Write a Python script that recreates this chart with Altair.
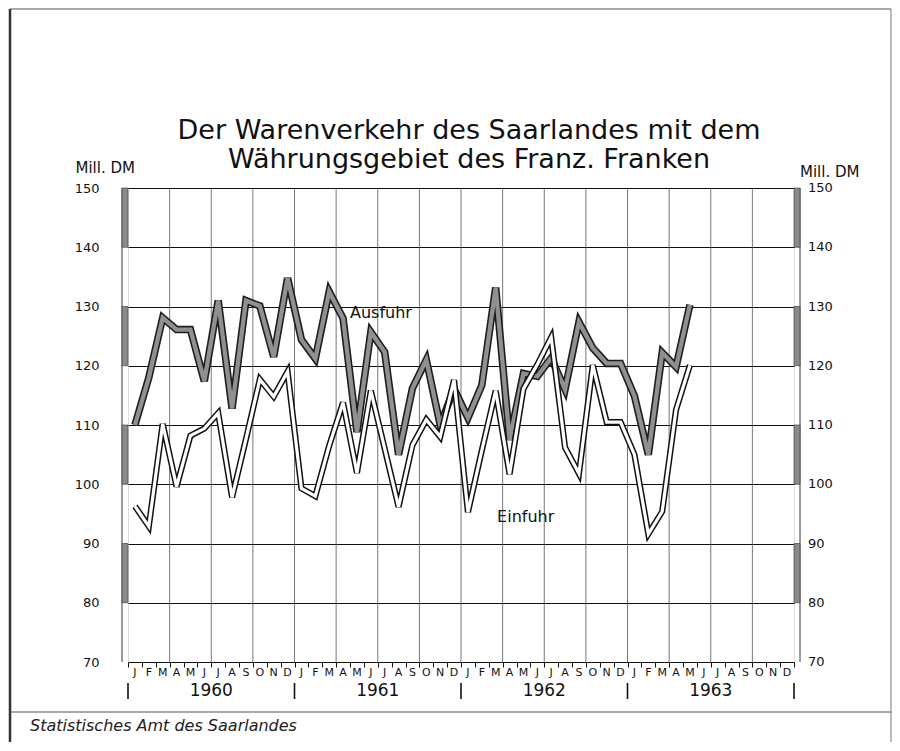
import altair as alt
import pandas as pd

# ---- data ----
ausfuhr = [110.0, 118.0, 128.1, 126.1, 126.1, 117.4, 131.0, 112.8, 131.0, 130.1, 121.5, 134.8,
           124.4, 121.2, 132.5, 128.0, 108.8, 125.7, 122.3, 105.0, 116.2, 121.0, 110.0, 116.1,
           111.2, 116.7, 133.2, 107.5, 118.7, 118.2, 121.3, 116.0, 127.4, 123.0, 120.4, 120.4,
           114.9, 105.0, 122.2, 119.8, 130.3]
einfuhr = [96.3, 92.9, 110.2, 99.6, 108.2, 109.4, 112.0, 97.8, 107.6, 117.7, 114.8, 119.0,
           99.3, 98.0, 106.5, 113.8, 101.9, 115.8, 106.0, 96.2, 106.6, 110.9, 108.0, 117.6,
           95.3, 105.7, 115.8, 101.7, 116.1, 120.2, 124.8, 106.2, 101.8, 120.1, 110.5, 110.5,
           105.0, 91.6, 95.4, 112.6, 120.1]
month_letters = list("JFMAMJJASOND") * 4
years = ["1960", "1961", "1962", "1963"]
y_ticks = [70, 80, 90, 100, 110, 120, 130, 140, 150]
shaded_bands = [(150, 140), (130, 120), (110, 100), (90, 80)]
title_lines = ["Der Warenverkehr des Saarlandes mit dem", "Währungsgebiet des Franz. Franken"]
unit = "Mill. DM"
source = "Statistisches Amt des Saarlandes"
labels = [("Ausfuhr", 15.5, 128.9), ("Einfuhr", 26.1, 94.4)]

W, H = 666, 474
FONT = "DejaVu Sans"
Y_MIN, Y_MAX = y_ticks[0], y_ticks[-1]

n_months = len(month_letters)
df_a = pd.DataFrame({"m": range(len(ausfuhr)), "v": ausfuhr})
df_e = pd.DataFrame({"m": range(len(einfuhr)), "v": einfuhr})
df_letters = pd.DataFrame({"m": range(n_months), "t": month_letters})
df_years = pd.DataFrame({"m": [5.5 + 12 * k for k in range(len(years))], "t": years})
df_yearsep = pd.DataFrame({"m": [-0.5 + 12 * k for k in range(len(years) + 1)]})
df_quarter = pd.DataFrame({"m": [2.5 + 3 * k for k in range(15)], "lo": Y_MIN, "hi": Y_MAX})
df_ticks = pd.DataFrame({"v": y_ticks})
df_axisline = pd.DataFrame({"lo": [Y_MIN], "hi": [Y_MAX]})
df_bands = pd.DataFrame({"a": [b[0] for b in shaded_bands], "b": [b[1] for b in shaded_bands]})
df_labels = pd.DataFrame({"t": [l[0] for l in labels], "m": [l[1] for l in labels],
                          "v": [l[2] for l in labels]})
df_one = pd.DataFrame({"t": [unit], "s": [source], "title": ["\n".join(title_lines)]})

xscale = alt.Scale(domain=[-0.5, 47.5], nice=False, zero=False)
yscale = alt.Scale(domain=[Y_MIN, Y_MAX], nice=False, zero=False)

xaxis = alt.Axis(values=[i - 0.5 for i in range(n_months + 1)], labels=False, ticks=True,
                 tickSize=5, tickColor="#111", tickWidth=1, domain=False, grid=False, title=None)
yaxis = alt.Axis(values=y_ticks, grid=True, gridColor="#111", gridWidth=1.1, ticks=False,
                 domain=False, labelFont=FONT, labelFontSize=13, labelColor="#111",
                 labelPadding=29, title=unit, titleAngle=0, titleAlign="left",
                 titleBaseline="alphabetic", titleX=-53, titleY=-16, titleFont=FONT,
                 titleFontSize=15, titleFontWeight="normal", titleColor="#111")


def xq():
    return alt.X("m:Q", scale=xscale, axis=xaxis)


def yq(field="v"):
    return alt.Y(f"{field}:Q", scale=yscale, axis=yaxis)


vgrid = alt.Chart(df_quarter).mark_rule(color="#555", strokeWidth=0.8).encode(
    x=xq(), y=yq("lo"), y2="hi:Q")

a_out = alt.Chart(df_a).mark_line(color="#1e1e1e", strokeWidth=7.5).encode(x=xq(), y=yq())
a_in = alt.Chart(df_a).mark_line(color="#909090", strokeWidth=4.3).encode(x=xq(), y=yq())
e_out = alt.Chart(df_e).mark_line(color="#111", strokeWidth=6.2).encode(x=xq(), y=yq())
e_in = alt.Chart(df_e).mark_line(color="white", strokeWidth=3.2).encode(x=xq(), y=yq())

series_labels = alt.Chart(df_labels).mark_text(align="left", baseline="middle", font=FONT,
                                               fontSize=16, color="#111").encode(
    x=xq(), y=yq(), text="t:N")

letters = alt.Chart(df_letters).mark_text(baseline="middle", font=FONT,
                                          fontSize=11, color="#111").encode(
    x=xq(), y=alt.value(H + 11), text="t:N")
year_text = alt.Chart(df_years).mark_text(baseline="middle", font=FONT, fontSize=17,
                                          color="#111").encode(
    x=xq(), y=alt.value(H + 29), text="t:N")
year_sep = alt.Chart(df_yearsep).mark_rule(color="#111", strokeWidth=1.6).encode(
    x=xq(), y=alt.value(H + 21), y2=alt.value(H + 37))

# shaded double-line strips along both value axes
strip_left_line = alt.Chart(df_axisline).mark_rule(color="#222", strokeWidth=0.9).encode(
    x=alt.value(-6), y=yq("lo"), y2="hi:Q")
strip_left = alt.Chart(df_bands).mark_rect(color="#8a8a8a", stroke="#333", strokeWidth=0.6).encode(
    x=alt.value(-6), x2=alt.value(0), y=yq("a"), y2="b:Q")
strip_right_line = alt.Chart(df_axisline).mark_rule(color="#222", strokeWidth=0.9).encode(
    x=alt.value(W + 6), y=yq("lo"), y2="hi:Q")
strip_right = alt.Chart(df_bands).mark_rect(color="#8a8a8a", stroke="#333", strokeWidth=0.6).encode(
    x=alt.value(W), x2=alt.value(W + 6), y=yq("a"), y2="b:Q")

right_labels = alt.Chart(df_ticks).mark_text(align="left", baseline="middle", font=FONT,
                                             fontSize=13, color="#111").encode(
    x=alt.value(W + 14), y=yq(), text="v:Q")
right_unit = alt.Chart(df_one).mark_text(
    align="left", baseline="alphabetic", font=FONT, fontSize=15, color="#111").encode(
    x=alt.value(W + 6), y=alt.value(-11), text="t:N")

# title as two centred text lines
title = alt.Chart(df_one).mark_text(align="center", baseline="top", font=FONT,
                                    fontSize=27, color="#111", lineBreak="\n",
                                    lineHeight=29).encode(
    x=alt.value(W / 2 + 8), y=alt.value(-70), text="title:N")

# outer frame of the sheet and footer
frame_l = alt.Chart(df_one).mark_rule(color="#333", strokeWidth=2.5).encode(
    x=alt.value(-118), y=alt.value(-179), y2=alt.value(560))
frame_r = alt.Chart(df_one).mark_rule(color="#777", strokeWidth=1).encode(
    x=alt.value(W + 97), y=alt.value(-179), y2=alt.value(560))
frame_top = alt.Chart(df_one).mark_rule(color="#555", strokeWidth=1.2).encode(
    x=alt.value(-118), x2=alt.value(W + 97), y=alt.value(-179))
frame_foot = alt.Chart(df_one).mark_rule(color="#555", strokeWidth=1).encode(
    x=alt.value(-118), x2=alt.value(W + 97), y=alt.value(524))
footer = alt.Chart(df_one).mark_text(
    align="left", baseline="middle", font=FONT, fontSize=16, fontStyle="italic",
    color="#222").encode(x=alt.value(-98), y=alt.value(538), text="s:N")

chart = alt.layer(
    frame_l, frame_r, frame_top, frame_foot, footer, title,
    vgrid, strip_left_line, strip_left, strip_right_line, strip_right,
    a_out, a_in, e_out, e_in, series_labels, letters, year_text, year_sep,
    right_labels, right_unit,
).properties(
    width=W, height=H,
    padding={"left": 120, "top": 180, "right": 98, "bottom": 80},
    autosize=alt.AutoSizeParams(type="none"),
).configure_view(stroke="#111", strokeWidth=1.5).configure(background="white")

chart.save("out.html", embed_options={"renderer": "svg", "actions": False})
